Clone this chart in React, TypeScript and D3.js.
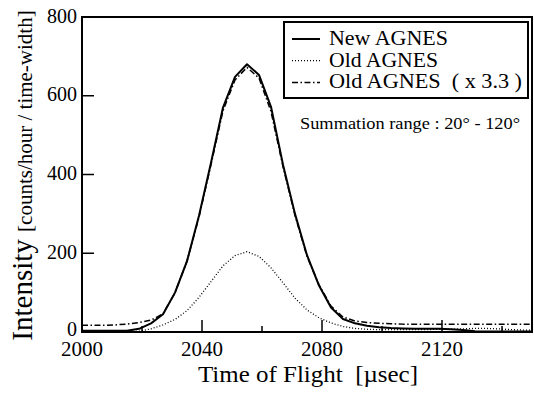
import React from "react";
import * as d3 from "d3";

const times = [2000, 2003, 2007, 2011, 2015, 2019, 2023, 2027, 2031, 2035, 2039, 2043, 2047, 2051, 2055, 2059, 2063, 2067, 2071, 2075, 2079, 2083, 2087, 2091, 2095, 2099, 2103, 2107, 2111, 2115, 2119, 2123, 2127, 2131, 2135, 2139, 2143, 2147, 2150];
const newAgnes = [3, 3, 3, 3, 3, 8, 22, 45, 100, 180, 295, 430, 570, 648, 680, 653, 572, 425, 300, 195, 118, 62, 33, 22, 16, 12, 10, 9, 8, 8, 8, 7, 5, 2, 1, 1, 1, 1, 1];
const oldAgnes = [0, 0, 0, 0, 1, 2, 8, 18, 32, 54, 88, 128, 168, 194, 204, 192, 163, 125, 86, 56, 36, 23, 14, 9, 7, 6, 6, 6, 6, 6, 7, 7, 8, 9, 9, 8, 6, 5, 5];
const oldScaled = [17, 17, 17, 18, 20, 24, 30, 46, 100, 180, 292, 425, 562, 640, 672, 645, 560, 420, 296, 192, 120, 66, 38, 28, 24, 22, 21, 20, 20, 20, 20, 20, 20, 20, 20, 20, 20, 20, 20];

const xMajor = [2000, 2040, 2080, 2120];
const xMinor = [2020, 2060, 2100, 2140];
const yTicks = [0, 200, 400, 600, 800];

const legendLabels = ["New AGNES", "Old AGNES", "Old AGNES  ( x 3.3 )"];
const legendWidths = [119, 109, 193];

export default function App() {
  const W = 534, H = 394;
  const L = 82, T = 17, R = 532, B = 332;
  const x = d3.scaleLinear().domain([2000, 2150]).range([L, R]);
  const y = d3.scaleLinear().domain([0, 800]).range([B, T]);
  const line = (vals: number[]) =>
    d3.line<number>().x((_, i) => x(times[i])).y((v) => y(v))(vals) || "";
  const font = "'Liberation Serif', 'DejaVu Serif'";
  const styles = [
    { dash: "none", w: 2 },
    { dash: "1,2", w: 1.3 },
    { dash: "6,2.5,1.5,2.5", w: 1.5 },
  ];
  const series = [newAgnes, oldAgnes, oldScaled];
  const pre = { whiteSpace: "pre" as const };
  return (
    <svg width={W} height={H} style={{ position: "absolute", left: 0, top: 0, fontFamily: font }}>
      <rect x={0} y={0} width={W} height={H} fill="#fff" />
      <defs>
        <clipPath id="plot">
          <rect x={L} y={T} width={R - L} height={B - T} />
        </clipPath>
      </defs>
      <g clipPath="url(#plot)">
        {[2, 1, 0].map((k) => (
          <path key={k} d={line(series[k])} fill="none" stroke="#000" strokeWidth={styles[k].w}
            strokeDasharray={styles[k].dash} strokeLinejoin="round" />
        ))}
      </g>
      <rect x={L} y={T} width={R - L} height={B - T} fill="none" stroke="#000" strokeWidth={2} />
      {xMajor.map((t) => (
        <g key={t}>
          <line x1={x(t)} x2={x(t)} y1={B} y2={B - 12} stroke="#000" strokeWidth={1.5} />
          <text x={x(t)} y={356} fontSize={20} textAnchor="middle" textLength={42} lengthAdjust="spacingAndGlyphs">{t}</text>
        </g>
      ))}
      {xMinor.map((t) => (
        <line key={t} x1={x(t)} x2={x(t)} y1={B} y2={B - 6} stroke="#000" strokeWidth={1.5} />
      ))}
      {yTicks.map((v) => (
        <g key={v}>
          <line x1={L} x2={L + 12} y1={y(v)} y2={y(v)} stroke="#000" strokeWidth={1.5} />
          <text x={77} y={y(v) + (v === 0 ? 4 : 5.5)} fontSize={20} textAnchor="end">{v}</text>
        </g>
      ))}
      <text x={308} y={382} fontSize={23} textAnchor="middle" style={pre} textLength={220} lengthAdjust="spacingAndGlyphs">Time of Flight  [µsec]</text>
      <text transform={`translate(32,${(T + B) / 2 + 1}) rotate(-90)`} textAnchor="middle" style={pre}>
        <tspan fontSize={29}>Intensity </tspan>
        <tspan fontSize={21}>[counts/hour / time-width]</tspan>
      </text>
      <rect x={284} y={22} width={244} height={76} fill="#fff" stroke="#000" strokeWidth={2} />
      {legendLabels.map((lab, k) => {
        const by = 45 + k * 21.7;
        return (
          <g key={k}>
            <line x1={292} x2={320} y1={by - 6} y2={by - 6} stroke="#000" strokeWidth={styles[k].w}
              strokeDasharray={styles[k].dash} />
            <text x={329} y={by} fontSize={20} style={pre} textLength={legendWidths[k]} lengthAdjust="spacingAndGlyphs">{lab}</text>
          </g>
        );
      })}
      <text x={300} y={128.5} fontSize={16.5} style={pre} textLength={220} lengthAdjust="spacingAndGlyphs">Summation range : 20° - 120°</text>
    </svg>
  );
}
